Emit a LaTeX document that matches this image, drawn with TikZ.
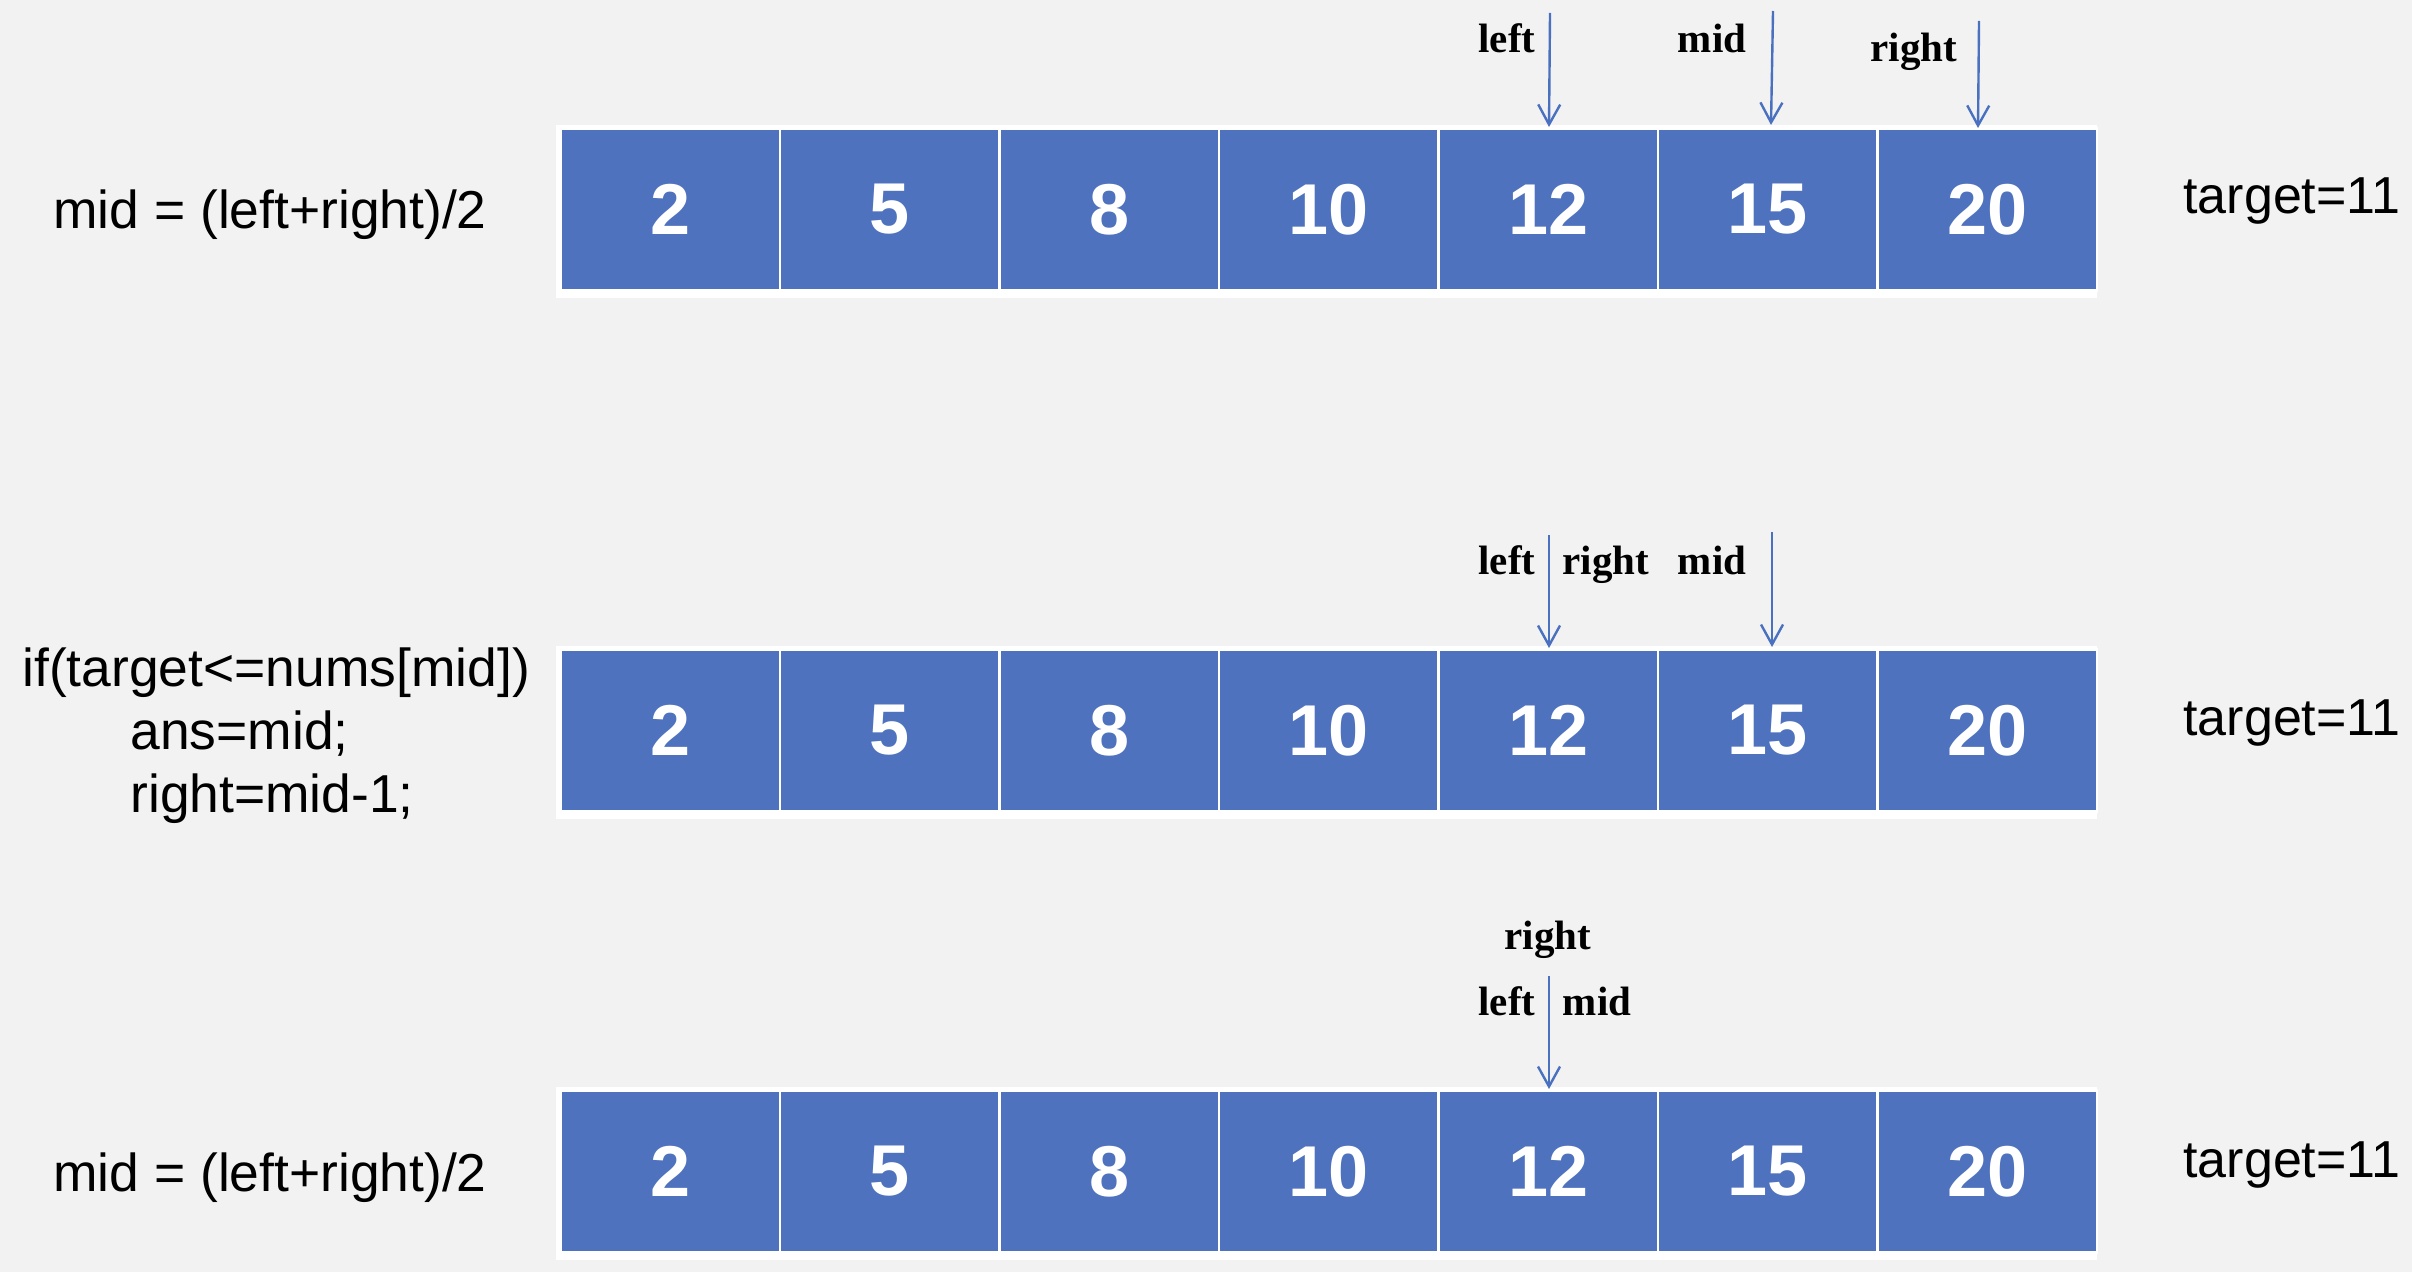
\documentclass[tikz,border=0pt]{standalone}
\usepackage{fontspec}
\setmainfont{Liberation Sans}
\newfontfamily\lblfont{Liberation Serif}
\usetikzlibrary{arrows.meta}
\definecolor{bg}{HTML}{F2F2F2}
\definecolor{cellblue}{HTML}{4F72BE}
\definecolor{arrblue}{HTML}{4A70C0}
\tikzset{
  cell/.style={fill=cellblue, draw=white, line width=1.35pt, minimum width=109.75pt,
    minimum height=81pt, inner sep=0pt, anchor=north west, text=white,
    font=\fontsize{36pt}{40pt}\selectfont\bfseries},
  ptr/.style={draw=arrblue, line width=1.2pt, -{Straight Barb[length=10pt,width=11pt]}},
  lbl/.style={font=\lblfont\bfseries\fontsize{20.5pt}{24pt}\selectfont, anchor=base, inner sep=0pt},
  code/.style={font=\fontsize{26.7pt}{31pt}\selectfont, anchor=base west, inner sep=0pt},
  tgt/.style={font=\fontsize{26pt}{31pt}\selectfont, anchor=base west, inner sep=0pt},
  backing/.style={fill=white}
}
\begin{document}
\begin{tikzpicture}[x=0.5pt,y=-0.5pt]
\useasboundingbox[fill=bg] (0,0) rectangle (2412,1272);
% rows
\foreach \r/\top in {1/127,2/648,3/1089}{
  \fill[backing] (556,\top-2) rectangle (2097,\top+171);
  \foreach \v [count=\i from 0] in {2,5,8,10,12,15,20}{
    \node[cell] (r\r c\i) at ({559+\i*219.5},\top) {\v};
  }
}
% left texts
\node[code] (f1) at (53,229) {mid = (left+right)/2};
\node[code] (k1) at (22,686) {if(target<=nums[mid])};
\node[code] (k2) at (130,749) {ans=mid;};
\node[code] (k3) at (130,812) {right=mid-1;};
\node[code] (f3) at (53,1191) {mid = (left+right)/2};
% targets
\node[tgt] (t1) at (2183,214) {target=11};
\node[tgt] (t2) at (2183,735) {target=11};
\node[tgt] (t3) at (2183,1177) {target=11};
% row 1 pointers
\node[lbl] (l1left) at (1507,53) {left};
\node[lbl] (l1mid) at (1712,53) {mid};
\node[lbl] (l1right) at (1914,62) {right};
\coordinate (a1ls) at (1550,13);  \coordinate (a1le) at (1549,127);
\coordinate (a1ms) at (1773,11);  \coordinate (a1me) at (1771,125);
\coordinate (a1rs) at (1979,21);  \coordinate (a1re) at (1978,128);
\draw[ptr] (a1ls) -- (a1le);
\draw[ptr] (a1ms) -- (a1me);
\draw[ptr] (a1rs) -- (a1re);
% row 2 pointers
\node[lbl] (l2left) at (1507,574) {left};
\node[lbl] (l2right) at (1606,574) {right};
\node[lbl] (l2mid) at (1712,574) {mid};
\coordinate (a2ls) at (1549,535); \coordinate (a2le) at (1549,648);
\coordinate (a2ms) at (1772,532); \coordinate (a2me) at (1772,647);
\draw[ptr] (a2ls) -- (a2le);
\draw[ptr] (a2ms) -- (a2me);
% row 3 pointers
\node[lbl] (l3right) at (1548,949) {right};
\node[lbl] (l3left) at (1507,1015) {left};
\node[lbl] (l3mid) at (1597,1015) {mid};
\coordinate (a3s) at (1549,976); \coordinate (a3e) at (1549,1089);
\draw[ptr] (a3s) -- (a3e);
\end{tikzpicture}
\end{document}
